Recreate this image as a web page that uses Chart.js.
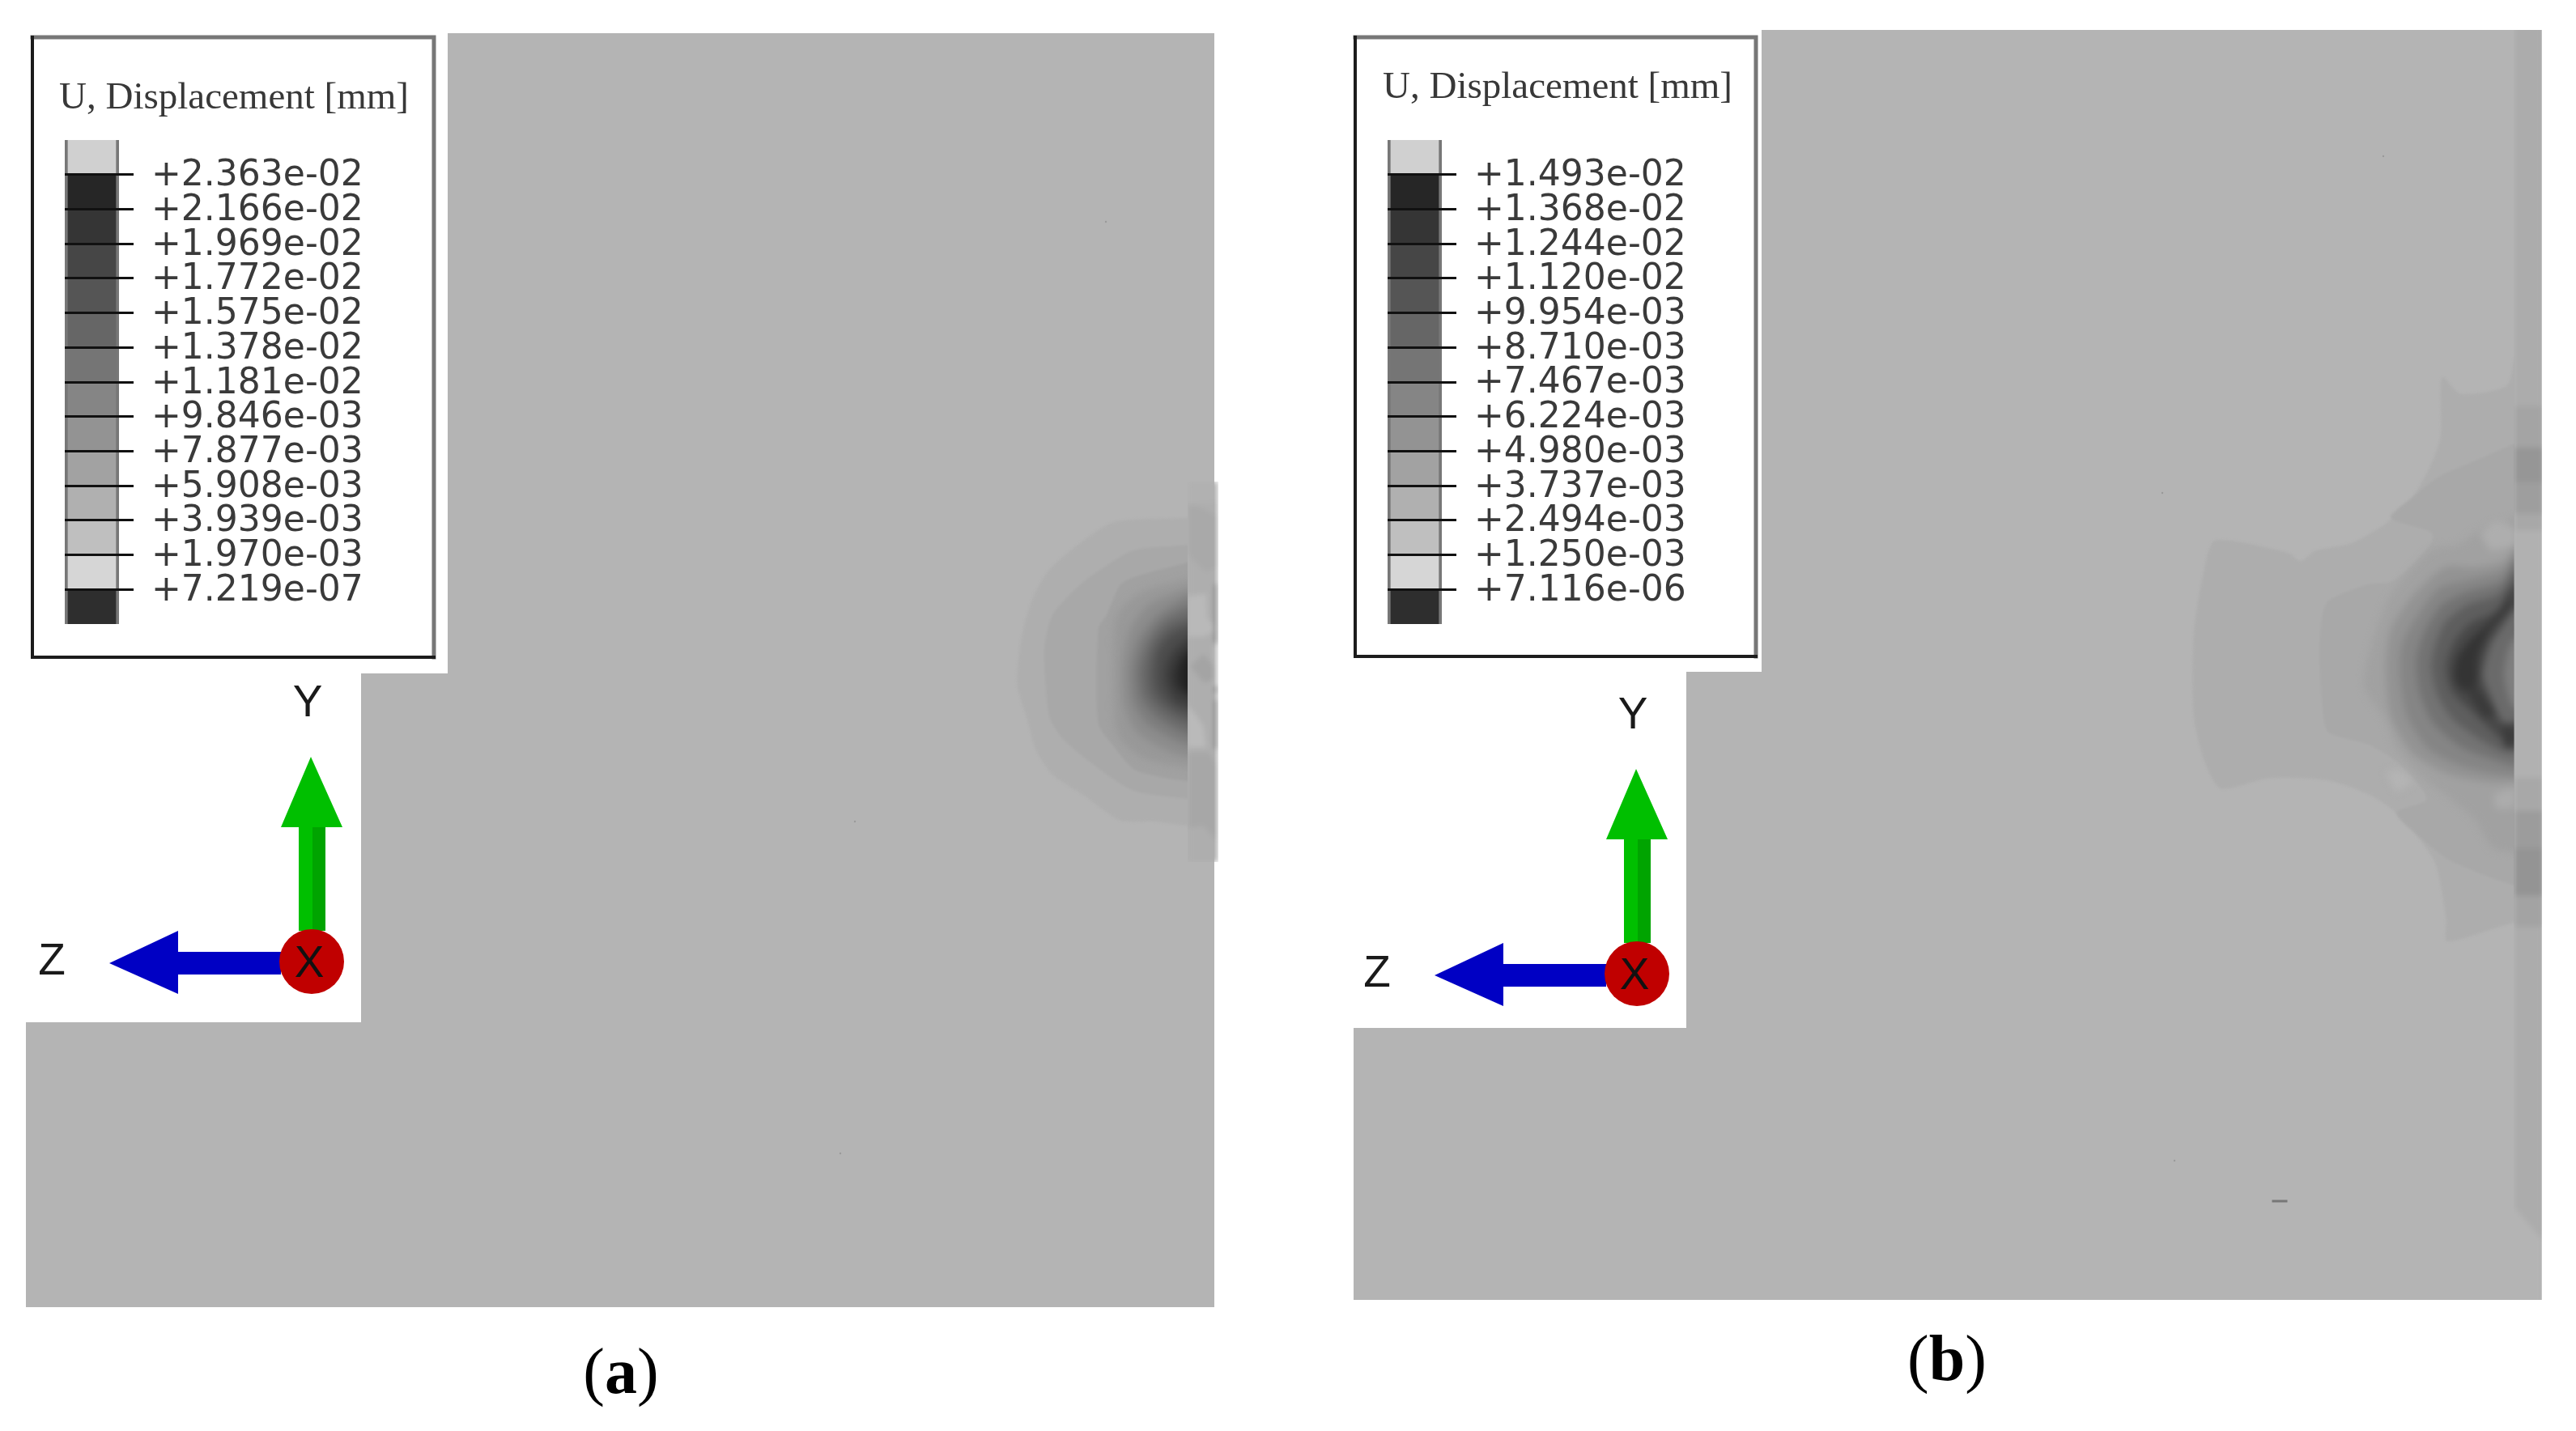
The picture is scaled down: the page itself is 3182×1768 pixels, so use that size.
<!DOCTYPE html>
<html><head><meta charset="utf-8">
<style>
html,body{margin:0;padding:0;background:#fff}
#page{position:relative;width:3182px;height:1768px;overflow:hidden;background:#fff}
canvas{position:absolute;display:block}
</style>
<script src="https://cdn.jsdelivr.net/npm/chart.js@4"></script>
</head><body><div id="page"></div>
<script>
// ---------- legend data ----------
const ticksA=['+2.363e-02','+2.166e-02','+1.969e-02','+1.772e-02','+1.575e-02','+1.378e-02','+1.181e-02','+9.846e-03','+7.877e-03','+5.908e-03','+3.939e-03','+1.970e-03','+7.219e-07'];
const ticksB=['+1.493e-02','+1.368e-02','+1.244e-02','+1.120e-02','+9.954e-03','+8.710e-03','+7.467e-03','+6.224e-03','+4.980e-03','+3.737e-03','+2.494e-03','+1.250e-03','+7.116e-06'];
const bandColors=['#d0d0d0','#262626','#353535','#464646','#555555','#666666','#757575','#858585','#939393','#a2a2a2','#b0b0b0','#bfbfbf','#d6d6d6','#2e2e2e'];
const legendTitle='U, Displacement [mm]';

// ---------- contour outlines, [colour, x,y, x,y, ...] ----------
const contourA=[
['#aeaeae',800,240,530,255,400,335,290,430,235,520,200,620,180,720,170,860,205,980,240,1100,300,1190,420,1270,550,1360,680,1365,800,1380],
['#a8a8a8',800,340,600,360,480,430,400,490,300,600,270,720,275,860,290,980,340,1060,460,1160,600,1250,800,1280],
['#a1a1a1',800,405,600,460,550,490,500,600,470,650,470,1000,530,1090,600,1170,700,1200,800,1215],
['#989898',800,465,640,510,560,570,530,640,530,990,560,1070,640,1130,800,1165],
['#8c8c8c',800,500,660,560,590,650,560,780,565,930,610,1030,700,1090,800,1125],
['#7d7d7d',800,530,690,600,620,690,590,800,600,920,650,1000,730,1050,800,1080],
['#6c6c6c',800,570,710,620,650,700,620,800,630,900,680,970,800,1040],
['#5c5c5c',800,610,720,650,670,720,650,810,660,890,710,950,800,1000],
['#4c4c4c',800,640,730,680,690,740,680,820,690,880,730,930,800,970],
['#3c3c3c',800,680,750,730,720,790,720,850,750,910,800,940],
['#2c2c2c',800,720,770,760,750,810,755,860,800,900],
['#202020',800,750,780,790,780,850,800,880]
];
const contourB=[
['#adadad',1338,85,1310,150,1140,170,1070,130,1065,270,1030,340,960,420,880,475,740,530,600,550,545,575,500,555,230,525,190,590,150,750,150,950,190,1060,250,1125,430,1100,640,1105,800,1140,900,1185,1040,1300,1085,1440,1090,1495,1338,1450],
['#a8a8a8',1338,290,1200,330,1060,370,960,420,880,470,1030,505,1030,530,950,590,880,625,800,630,650,670,625,710,615,800,630,950,650,990,800,1020,900,1060,1000,1130,1010,1155,900,1185,1000,1250,1100,1300,1338,1360],
['#a1a1a1',1338,470,1210,500,1130,535,1040,545,950,600,860,680,780,870,860,960,900,1030,1000,1100,1100,1150,1190,1200,1260,1270,1338,1280],
['#939393',1338,540,1300,575,1190,590,1080,590,960,660,880,740,860,830,880,950,960,1040,1090,1090,1240,1110,1338,1110],
['#858585',1338,560,1290,600,1170,620,1060,640,975,710,920,780,915,860,940,950,1020,1030,1140,1070,1270,1090,1338,1095],
['#737373',1338,575,1290,625,1160,650,1070,680,1005,745,975,810,985,890,1035,965,1140,1025,1260,1055,1338,1070],
['#5e5e5e',1338,600,1280,655,1165,680,1085,720,1045,775,1030,830,1050,895,1105,955,1195,1000,1290,1035,1338,1040],
['#484848',1338,630,1270,695,1175,725,1115,770,1085,830,1105,890,1190,945,1290,1005,1338,1020],
['#6a6a6a',1338,690,1300,725,1250,775,1220,850,1250,905,1295,965,1338,965],
['#808080',1338,760,1315,790,1300,850,1315,900,1338,930],
['#343434',1320,640,1300,685,1235,730,1175,765,1125,810,1115,860,1150,890,1195,880,1205,805,1245,745,1320,685],
['#3a3a3a',1150,880,1195,880,1240,915,1265,945,1225,955],
['#3c3c3c',1290,975,1338,980,1338,1025,1300,1025],
['#b4b4b4',860,1085,910,1080,960,1110,900,1135],
['#aeaeae',1210,510,1270,480,1338,495,1338,535,1250,550],
['#acacac',1260,1140,1338,1125,1338,1170,1270,1175]
];
const sharpBandsA=3, sharpBandsB=2;
const stripA=[
['#aeaeae',800,105,912,105,912,1515,800,1515],
['#b1b1b1',800,105,912,105,912,180,800,190],
['#a9a9a9',800,190,850,200,912,235,912,420,870,440,800,375],
['#b9b9b9',800,530,870,520,875,610,900,640,900,660,860,680,800,680],
['#a4a4a4',810,790,860,745,900,790,900,840,860,850],
['#bababa',800,930,860,1010,870,1090,800,1090],
['#a7a7a7',800,1110,880,1110,912,1160,912,1440,860,1380,800,1390],
['#808080',902,485,912,485,912,705,902,705],
['#c4c4c4',902,705,912,705,912,865,902,865],
['#777777',902,865,912,865,912,885,902,885],
['#808080',902,915,912,915,912,1095,902,1095]
];
const stripB=[
['#acacac',1338,-1090,1445,-1090,1445,2220,1338,2220],
['#a4a4a4',1338,200,1445,200,1445,300,1338,300],
['#969696',1338,300,1445,300,1445,385,1338,385],
['#9e9e9e',1338,385,1445,385,1445,460,1338,460],
['#a8a8a8',1338,460,1445,460,1445,500,1338,500],
['#b1b1b1',1338,500,1445,500,1445,1100,1338,1100],
['#a8a8a8',1338,1100,1445,1100,1445,1180,1338,1180],
['#9c9c9c',1338,1180,1445,1180,1445,1270,1338,1270],
['#949494',1338,1270,1445,1270,1445,1385,1338,1385],
['#a3a3a3',1338,1385,1445,1385,1445,1460,1338,1460],
['#b4b4b4',1338,2140,1445,2220,1445,2500,1338,2500]
];
// ---------- plate outlines and specks ----------
const plateA=[32,1263,446,1263,446,832,553,832,553,41,1500,41,1500,1615,32,1615];
const plateB=[1672,1270,2083,1270,2083,830,2176,830,2176,37,3139,37,3139,1606,1672,1606];
const specks=[1056,1015,1038,1425,1366,274,2671,609,2944,193,2686,1434];
// ---------- triad ----------
const arrowY=[384,935,423,1022,402,1022,402,1150,369,1150,369,1022,347,1022];
const arrowYShade=[386,1022,402,1022,402,1150,386,1150];
const arrowZ=[135,1190,220,1150,220,1176,347,1176,347,1204,220,1204,220,1228];
const hub=[385,1188];
const triadOffsetB=[1637,15];
const dashB=[2808,1484,2824,1484];

// ---------- helpers ----------
const W=3182,H=1768;
const page=document.getElementById('page');
function addCanvas(l,t,w,h,css){const c=document.createElement('canvas');c.width=w;c.height=h;c.style.left=l+'px';c.style.top=t+'px';c.style.width=w+'px';c.style.height=h+'px';if(css)Object.assign(c.style,css);page.appendChild(c);return c;}
function pts(flat,ox=0,oy=0,sx=1,sy=1){const r=[];for(let i=0;i<flat.length;i+=2)r.push({x:ox+flat[i]/sx,y:oy+flat[i+1]/sy});return r;}
function shape(data,color,tension=0){return {data,showLine:true,fill:'shape',backgroundColor:color,borderColor:color,borderWidth:0,pointRadius:0,tension};}
function stroke(data,color,w){return {data,showLine:true,fill:false,borderColor:color,borderWidth:w,pointRadius:0,borderCapStyle:'square'};}
function scene(canvas,datasets,plugins=[]){
  datasets.forEach((d,i)=>{d.order=-i;});
  return new Chart(canvas,{type:'scatter',data:{datasets},plugins,options:{responsive:false,animation:false,events:[],
    layout:{padding:0,autoPadding:false},plugins:{legend:{display:false},tooltip:{enabled:false},title:{display:false}},
    scales:{x:{type:'linear',min:0,max:W,display:false},y:{type:'linear',min:0,max:H,reverse:true,display:false}}}});
}
function contourSets(list,ox,oy,sx,sy,edge,tension){
  return list.map(row=>{
    const flat=row.slice(1),n=flat.length;
    const p=pts(flat,ox,oy,sx,sy);
    if(flat[0]===edge&&flat[n-2]===edge){
      p.push({x:ox+(edge+90)/sx,y:p[p.length-1].y});
      p.push({x:ox+(edge+90)/sx,y:p[0].y});
    }
    return shape(p,row[0],tension);
  });
}
function stripSets(list,ox,oy,sx,sy){return list.map(row=>shape(pts(row.slice(1),ox,oy,sx,sy),row[0]));}
const contourClip="path('M1000 400H1467V1300H1000Z M2500 200H3106V1400H2500Z')";

// ---------- layer 1: the plates ----------
scene(addCanvas(0,0,W,H),[shape(pts(plateA),'#b4b4b4'),shape(pts(plateB),'#b4b4b4'),stroke(pts(dashB),'#777',3),
  {data:pts(specks),pointRadius:1.2,pointBackgroundColor:'#9a9a9a',pointBorderWidth:0}]);

// ---------- layer 2: outer contour bands, nearly crisp ----------
scene(addCanvas(0,0,W,H,{filter:'blur(1.5px)',clipPath:contourClip}),
  [...contourSets(contourA.slice(0,sharpBandsA),1200,560,3,3,800,0.25),...contourSets(contourB.slice(0,sharpBandsB),2660,400,3,1.96,1338,0.25)]);
// ---------- layer 3: inner contour bands, smooth ----------
scene(addCanvas(0,0,W,H,{filter:'blur(5px)',clipPath:contourClip}),
  [...contourSets(contourA.slice(sharpBandsA),1200,560,3,3,800,0.25),...contourSets(contourB.slice(sharpBandsB),2660,400,3,1.96,1338,0.25)]);

// ---------- layer 4: edge strips ----------
scene(addCanvas(0,0,W,H,{filter:'blur(3px)',clipPath:"path('M1467 595H1505V1065H1467Z M3105 37H3140V1606H3105Z')"}),
  [...stripSets(stripA,1200,560,3,3),...stripSets(stripB,2660,400,3,1.96)]);

// ---------- layer 5: legend frames, triads, text ----------
const boxes=[[40,46,536,812],[1674,46,2169,811]];
const frameSets=[];
boxes.forEach(([l,t,r,b])=>{
  frameSets.push(stroke(pts([l,t,r,t,r,b]),'#777777',5));
  frameSets.push(stroke(pts([l,t,l,b,r,b]),'#1c1c1c',4));
});
function triadSets(dx,dy){
  const mv=a=>a.map((v,i)=>v+(i%2?dy:dx));
  return [shape(pts(mv(arrowY)),'#00bf00'),shape(pts(mv(arrowYShade)),'#00a400'),shape(pts(mv(arrowZ)),'#0000c4'),
    {data:pts([hub[0]+dx,hub[1]+dy]),pointRadius:40,pointHoverRadius:40,pointBackgroundColor:'#c00000',pointBorderWidth:0}];
}
const textItems=[
 {t:legendTitle,x:73,y:134,font:'47px "Liberation Serif"',c:'#383838',a:'left'},
 {t:legendTitle,x:1708,y:121,font:'47px "Liberation Serif"',c:'#383838',a:'left'},
 {t:'Y',x:380,y:870,font:'55px "Liberation Sans"',c:'#1a1a1a',a:'center',b:'middle'},
 {t:'Z',x:64,y:1189,font:'55px "Liberation Sans"',c:'#1a1a1a',a:'center',b:'middle'},
 {t:'X',x:382,y:1192,font:'55px "Liberation Sans"',c:'#111',a:'center',b:'middle'},
 {t:'Y',x:380+triadOffsetB[0],y:870+triadOffsetB[1],font:'55px "Liberation Sans"',c:'#1a1a1a',a:'center',b:'middle'},
 {t:'Z',x:64+triadOffsetB[0],y:1189+triadOffsetB[1],font:'55px "Liberation Sans"',c:'#1a1a1a',a:'center',b:'middle'},
 {t:'X',x:382+triadOffsetB[0],y:1192+triadOffsetB[1],font:'55px "Liberation Sans"',c:'#111',a:'center',b:'middle'}
];
const captions=[{letter:'a',x:767,y:1721},{letter:'b',x:2405,y:1705}];
const textPlugin={id:'figureText',afterDatasetsDraw(chart){
  const {ctx,scales:{x,y}}=chart;ctx.save();
  for(const it of textItems){ctx.font=it.font;ctx.fillStyle=it.c;ctx.textAlign=it.a;ctx.textBaseline=it.b||'alphabetic';ctx.fillText(it.t,x.getPixelForValue(it.x),y.getPixelForValue(it.y));}
  ctx.fillStyle='#000';ctx.textAlign='left';ctx.textBaseline='alphabetic';
  for(const c of captions){
    const reg='80px "Liberation Serif"',bold='bold 80px "Liberation Serif"';
    ctx.font=reg;const pw=ctx.measureText('(').width;ctx.font=bold;const lw=ctx.measureText(c.letter).width;
    let px=x.getPixelForValue(c.x)-(2*pw+lw)/2,py=y.getPixelForValue(c.y);
    ctx.font=reg;ctx.fillText('(',px,py);px+=pw;
    ctx.font=bold;ctx.fillText(c.letter,px,py);px+=lw;
    ctx.font=reg;ctx.fillText(')',px,py);
  }
  ctx.restore();
}};
scene(addCanvas(0,0,W,H,{filter:'blur(0.6px)'}),[...frameSets,...triadSets(0,0),...triadSets(triadOffsetB[0],triadOffsetB[1])],[textPlugin]);

// ---------- layer 6: the two colour legends, each a floating-bar chart with a real axis ----------
function legendChart(labels,left,top){
  const values=labels.map(Number);
  const step=values[0]-values[1];
  const edges=[values[0]+step,...values,values[values.length-1]-step];
  const barW=67,cw=470,ch=598;
  const datasets=bandColors.map((col,i)=>({data:[[edges[i+1],edges[i]]],backgroundColor:col,grouped:false,
     barPercentage:1,categoryPercentage:1,borderColor:'#777',borderSkipped:false,borderWidth:{left:4,right:4,top:0,bottom:0}}));
  new Chart(addCanvas(left,top,cw,ch,{filter:'blur(0.6px)'}),{type:'bar',data:{labels:['U'],datasets},options:{
    responsive:false,animation:false,events:[],layout:{padding:0,autoPadding:false},
    plugins:{legend:{display:false},tooltip:{enabled:false}},
    scales:{
      x:{display:false},
      y:{position:'right',min:edges[edges.length-1],max:edges[0],
        afterBuildTicks(s){s.ticks=values.map(v=>({value:v}));},
        afterFit(s){s.width=cw-barW;s.paddingTop=0;s.paddingBottom=0;},
        grid:{z:1,color:'#111111',lineWidth:3,tickLength:18},
        border:{display:false},
        ticks:{autoSkip:false,padding:22,labelOffset:2,color:'#3a3a3a',font:{family:'DejaVu Sans',size:44},
          callback:(v,i)=>labels[i]}
      }
    }}});
}
legendChart(ticksA,80,173);
legendChart(ticksB,1714,173);
</script></body></html>
